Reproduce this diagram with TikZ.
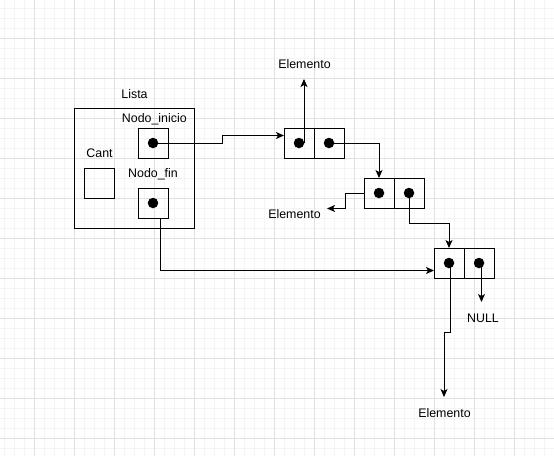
\documentclass[tikz,border=0pt]{standalone}
\usepackage{fontspec}
\setmainfont{Liberation Sans}
\usetikzlibrary{arrows.meta}
\definecolor{gridminor}{HTML}{F4F4F4}
\definecolor{gridmajor}{HTML}{E0E0E0}
\begin{document}
\begin{tikzpicture}[x=1pt,y=-1pt,
  box/.style={draw=black,line width=1pt,rectangle,inner sep=0pt,outer sep=0pt,minimum width=30pt,minimum height=30pt},
  dot/.style={circle,fill=black,inner sep=0pt,minimum size=10.5pt},
  lbl/.style={font=\fontsize{12.4pt}{14pt}\selectfont,inner sep=0pt},
  arr/.style={draw=black,line width=1pt,-{Stealth[length=8pt,width=7pt,inset=2pt]}}]
\useasboundingbox (0,0) rectangle (554,456);
\fill[white] (0,0) rectangle (554,456);
\foreach \x in {4,14,...,554} \draw[gridminor,line width=1pt] (\x,0) -- (\x,456);
\foreach \y in {8,18,...,456} \draw[gridminor,line width=1pt] (0,\y) -- (554,\y);
\foreach \x in {34,74,...,554} \draw[gridmajor,line width=1pt] (\x,0) -- (\x,456);
\foreach \y in {38,78,...,456} \draw[gridmajor,line width=1pt] (0,\y) -- (554,\y);

% list box
\node[box,minimum width=120pt,minimum height=120pt] (lista) at (134,168) {};
\node[box] (ini) at (153,143) {};
\node[box] (fin) at (153,203) {};
\node[box] (cant) at (99,183) {};
\node[lbl] (tlista) at (134.5,94) {Lista};
\node[lbl] (tini) at (154.3,119) {Nodo\_inicio};
\node[lbl] (tcant) at (99.5,153) {Cant};
\node[lbl] (tfin) at (153,174) {Nodo\_fin};

% linked nodes
\node[box] (n1a) at (299,143) {};
\node[box] (n1b) at (329,143) {};
\node[box] (n2a) at (379,193) {};
\node[box] (n2b) at (409,193) {};
\node[box] (n3a) at (449,263) {};
\node[box] (n3b) at (479,263) {};

% labels
\node[lbl] (e1) at (304.5,64) {Elemento};
\node[lbl] (e2) at (294.5,214) {Elemento};
\node[lbl] (null) at (483,318.5) {NULL};
\node[lbl] (e3) at (444.5,413) {Elemento};

% connectors
\draw[arr] (ini.center) -- (222,143) -- (222,135.5) -- (n1a.west |- 0,135.5);
\draw[arr] ([xshift=5pt]n1a.center) -- ++(0,-64);
\draw[arr] (n1b.center) -| (n2a.north);
\draw[arr] (n2a.west) -- (345,193) |- (327,208.5);
\draw[arr] (n2b.center) -- (409,223) -| (n3a.north);
\draw[arr] ([xshift=7pt]fin.south) |- (n3a.west |- 0,270.5);
\draw[arr] ([xshift=2.5pt]n3b.center) -- ++(0,39);
\draw[arr] ([xshift=1pt]n3a.center) -- (450,332) -- (444,332) -- (444,397);

% dots
\node[dot] (dini) at (ini.center) {};
\node[dot] (dfin) at (fin.center) {};
\node[dot] (d1a) at (n1a.center) {};
\node[dot] (d1b) at (n1b.center) {};
\node[dot] (d2a) at (n2a.center) {};
\node[dot] (d2b) at (n2b.center) {};
\node[dot] (d3a) at (n3a.center) {};
\node[dot] (d3b) at (n3b.center) {};
\end{tikzpicture}
\end{document}
